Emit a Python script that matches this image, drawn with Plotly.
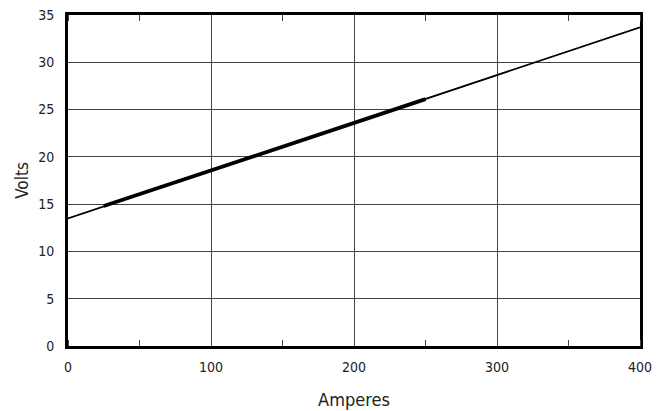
import plotly.graph_objects as go

# Data
line_x = [0, 400]
line_y = [13.5, 33.7]
thick_x = [25, 250]
thick_y = [14.8, 26.1]

x_ticks = [0, 100, 200, 300, 400]
y_ticks = [0, 5, 10, 15, 20, 25, 30, 35]

FONT = "DejaVu Sans Condensed, Liberation Sans Narrow, Arial Narrow, sans-serif"

fig = go.Figure()
fig.add_trace(go.Scatter(x=line_x, y=line_y, mode="lines",
                         line=dict(color="black", width=1.8), showlegend=False))
fig.add_trace(go.Scatter(x=thick_x, y=thick_y, mode="lines",
                         line=dict(color="black", width=3.8), showlegend=False))

fig.update_layout(
    width=663, height=411,
    margin=dict(l=68, r=23, t=15, b=65, autoexpand=False),
    paper_bgcolor="white", plot_bgcolor="white",
    font=dict(family=FONT, size=14, color="#222"),
)
fig.update_xaxes(
    range=[0, 400], tickvals=x_ticks,
    ticks="outside", ticklen=6, tickcolor="rgba(0,0,0,0)",
    showgrid=True, gridcolor="#444", gridwidth=1,
    showline=True, linecolor="black", linewidth=3, mirror="allticks",
    minor=dict(dtick=50, tick0=0, ticks="inside", ticklen=6, tickcolor="#444",
               tickwidth=1, showgrid=False),
    zeroline=False, automargin=False,
    title=dict(text="Amperes", font=dict(size=18, family=FONT), standoff=20),
    tickfont=dict(size=14),
)
fig.update_yaxes(
    range=[0, 35], tickvals=y_ticks,
    ticks="outside", ticklen=8, tickcolor="rgba(0,0,0,0)",
    showgrid=True, gridcolor="#444", gridwidth=1,
    showline=True, linecolor="black", linewidth=3, mirror=True,
    zeroline=False, automargin=False,
    title=dict(text="Volts", font=dict(size=17, family=FONT), standoff=6),
    tickfont=dict(size=14),
)

fig.write_html("out.html", config={"displayModeBar": False},
               post_script="document.body.style.margin='0';document.body.style.padding='0';")
